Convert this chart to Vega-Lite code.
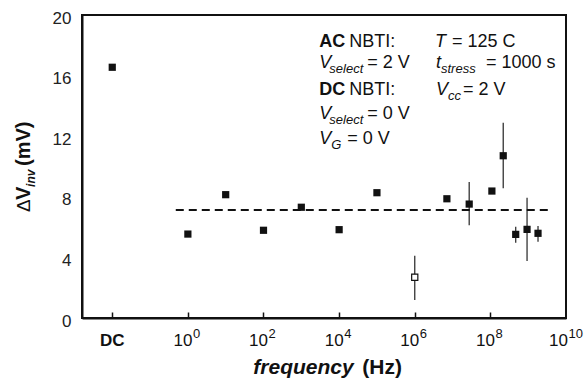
{
  "$schema": "https://vega.github.io/schema/vega-lite/v6.json",
  "width": 484,
  "height": 303,
  "autosize": {"type": "none"},
  "padding": {"left": 82, "top": 15, "right": 20, "bottom": 68},
  "background": "white",
  "config": {
    "font": "Liberation Sans",
    "view": {"stroke": "#111", "strokeWidth": 2},
    "text": {"font": "Liberation Sans", "fill": "#111", "baseline": "alphabetic", "align": "left", "fontSize": 18}
  },
  "datasets": {
    "pts": [
      {"pos": -2, "dv": 16.55, "open": false},
      {"pos": 0, "dv": 5.54, "open": false},
      {"pos": 1, "dv": 8.14, "open": false},
      {"pos": 2, "dv": 5.79, "open": false},
      {"pos": 3, "dv": 7.31, "open": false},
      {"pos": 4, "dv": 5.83, "open": false},
      {"pos": 5, "dv": 8.27, "open": false},
      {"pos": 6, "dv": 2.69, "lo": 1.19, "hi": 4.11, "open": true},
      {"pos": 6.85, "dv": 7.87, "open": false},
      {"pos": 7.44, "dv": 7.52, "lo": 6.12, "hi": 8.98, "open": false},
      {"pos": 8.04, "dv": 8.38, "open": false},
      {"pos": 8.34, "dv": 10.71, "lo": 8.56, "hi": 12.89, "open": false},
      {"pos": 8.67, "dv": 5.52, "lo": 4.97, "hi": 6.03, "open": false},
      {"pos": 8.97, "dv": 5.85, "lo": 3.76, "hi": 7.94, "open": false},
      {"pos": 9.26, "dv": 5.59, "lo": 5.04, "hi": 6.07, "open": false}
    ],
    "ticks": [
      {"pos": 0, "s": "0"},
      {"pos": 2, "s": "2"},
      {"pos": 4, "s": "4"},
      {"pos": 6, "s": "6"},
      {"pos": 8, "s": "8"}
    ]
  },
  "layer": [
    {
      "data": {"name": "pts"},
      "transform": [{"filter": "isValid(datum.lo)"}],
      "mark": {"type": "rule", "stroke": "#333", "strokeWidth": 1.3},
      "encoding": {
        "x": {"field": "pos", "type": "quantitative",
          "scale": {"domain": [-2.8, 10], "nice": false, "zero": false},
          "axis": {"values": [-2, 0, 2, 4, 6, 8], "labels": false, "title": null, "grid": false,
            "tickSize": -6, "tickWidth": 1.5, "tickColor": "#111", "domainWidth": 2, "domainColor": "#111"}},
        "y": {"field": "lo", "type": "quantitative",
          "scale": {"domain": [0, 20], "nice": false, "zero": false},
          "axis": {"values": [0, 4, 8, 12, 16, 20], "ticks": false, "tickSize": 0, "labelPadding": 11,
            "labelFontSize": 17, "labelFont": "Liberation Sans", "labelColor": "#222", "labelFlush": false,
            "labelOffset": 3, "title": null, "grid": false, "domainWidth": 2, "domainColor": "#111"}},
        "y2": {"field": "hi"}
      }
    },
    {
      "data": {"values": [{"x1": -0.32, "x2": 9.58, "m": 7.13}]},
      "mark": {"type": "rule", "stroke": "#111", "strokeWidth": 2, "strokeDash": [8, 5]},
      "encoding": {
        "x": {"field": "x1", "type": "quantitative"},
        "x2": {"field": "x2"},
        "y": {"field": "m", "type": "quantitative"}
      }
    },
    {
      "data": {"name": "pts"},
      "transform": [{"filter": "!datum.open"}],
      "mark": {"type": "point", "shape": "square", "filled": true, "size": 52, "color": "#111", "opacity": 1},
      "encoding": {
        "x": {"field": "pos", "type": "quantitative"},
        "y": {"field": "dv", "type": "quantitative"}
      }
    },
    {
      "data": {"name": "pts"},
      "transform": [{"filter": "datum.open"}],
      "mark": {"type": "point", "shape": "square", "filled": false, "fill": "white", "fillOpacity": 1, "size": 38, "stroke": "#111", "strokeWidth": 1.2, "opacity": 1},
      "encoding": {
        "x": {"field": "pos", "type": "quantitative"},
        "y": {"field": "dv", "type": "quantitative"}
      }
    },
    {
      "data": {"name": "ticks"},
      "mark": {"type": "text", "align": "right", "dx": 4.5, "dy": 28, "fontSize": 17},
      "encoding": {"x": {"field": "pos", "type": "quantitative"}, "y": {"datum": 0}, "text": {"value": "10"}}
    },
    {
      "data": {"name": "ticks"},
      "mark": {"type": "text", "align": "left", "dx": 5, "dy": 20, "fontSize": 13},
      "encoding": {"x": {"field": "pos", "type": "quantitative"}, "y": {"datum": 0}, "text": {"field": "s"}}
    },
    {
      "data": {"values": [{"t": "DC"}]},
      "mark": {"type": "text", "align": "center", "dy": 28, "fontSize": 17, "fontWeight": "bold"},
      "encoding": {"x": {"datum": -2}, "y": {"datum": 0}, "text": {"field": "t"}}
    },
    {
      "data": {"values": [{"t": "10"}]},
      "mark": {"type": "text", "align": "right", "dx": 2, "dy": 28, "fontSize": 17},
      "encoding": {"x": {"datum": 10}, "y": {"datum": 0}, "text": {"field": "t"}}
    },
    {
      "data": {"values": [{"t": "10"}]},
      "mark": {"type": "text", "align": "left", "dx": 2.5, "dy": 20, "fontSize": 13},
      "encoding": {"x": {"datum": 10}, "y": {"datum": 0}, "text": {"field": "t"}}
    },
    {
      "data": {"values": [{"t": "frequency"}]},
      "mark": {"type": "text", "dy": 56, "fontSize": 21, "fontWeight": "bold", "fontStyle": "italic"},
      "encoding": {"x": {"datum": 1.73}, "y": {"datum": 0}, "text": {"field": "t"}}
    },
    {
      "data": {"values": [{"t": "(Hz)"}]},
      "mark": {"type": "text", "dx": 109, "dy": 56, "fontSize": 21, "fontWeight": "bold"},
      "encoding": {"x": {"datum": 1.73}, "y": {"datum": 0}, "text": {"field": "t"}}
    },
    {
      "data": {"values": [{"t": "Δ"}]},
      "mark": {"type": "text", "angle": -90, "dx": 0, "dy": -52, "fontSize": 19},
      "encoding": {"x": {"datum": -2.8}, "y": {"datum": 7.0}, "text": {"field": "t"}}
    },
    {
      "data": {"values": [{"t": "V"}]},
      "mark": {"type": "text", "angle": -90, "dx": 12, "dy": -52, "fontSize": 20, "fontWeight": "bold"},
      "encoding": {"x": {"datum": -2.8}, "y": {"datum": 7.0}, "text": {"field": "t"}}
    },
    {
      "data": {"values": [{"t": "inv"}]},
      "mark": {"type": "text", "angle": -90, "dx": 25, "dy": -47, "fontSize": 12, "fontWeight": "bold", "fontStyle": "italic"},
      "encoding": {"x": {"datum": -2.8}, "y": {"datum": 7.0}, "text": {"field": "t"}}
    },
    {
      "data": {"values": [{"t": "(mV)"}]},
      "mark": {"type": "text", "angle": -90, "dx": 46, "dy": -52, "fontSize": 20, "fontWeight": "bold"},
      "encoding": {"x": {"datum": -2.8}, "y": {"datum": 7.0}, "text": {"field": "t"}}
    },
    {
      "data": {"values": [{"t": "AC"}]},
      "mark": {"type": "text", "fontWeight": "bold"},
      "encoding": {"x": {"datum": 3.476}, "y": {"datum": 17.91}, "text": {"field": "t"}}
    },
    {
      "data": {"values": [{"t": "NBTI:"}]},
      "mark": {"type": "text", "dx": 30},
      "encoding": {"x": {"datum": 3.476}, "y": {"datum": 17.91}, "text": {"field": "t"}}
    },
    {
      "data": {"values": [{"t": "V"}]},
      "mark": {"type": "text", "fontStyle": "italic"},
      "encoding": {"x": {"datum": 3.476}, "y": {"datum": 16.48}, "text": {"field": "t"}}
    },
    {
      "data": {"values": [{"t": "select"}]},
      "mark": {"type": "text", "fontStyle": "italic", "fontSize": 13, "dx": 10, "dy": 5},
      "encoding": {"x": {"datum": 3.476}, "y": {"datum": 16.48}, "text": {"field": "t"}}
    },
    {
      "data": {"values": [{"t": "= 2 V"}]},
      "mark": {"type": "text", "dx": 48},
      "encoding": {"x": {"datum": 3.476}, "y": {"datum": 16.48}, "text": {"field": "t"}}
    },
    {
      "data": {"values": [{"t": "DC"}]},
      "mark": {"type": "text", "fontWeight": "bold"},
      "encoding": {"x": {"datum": 3.476}, "y": {"datum": 14.72}, "text": {"field": "t"}}
    },
    {
      "data": {"values": [{"t": "NBTI:"}]},
      "mark": {"type": "text", "dx": 30},
      "encoding": {"x": {"datum": 3.476}, "y": {"datum": 14.72}, "text": {"field": "t"}}
    },
    {
      "data": {"values": [{"t": "V"}]},
      "mark": {"type": "text", "fontStyle": "italic"},
      "encoding": {"x": {"datum": 3.476}, "y": {"datum": 13.13}, "text": {"field": "t"}}
    },
    {
      "data": {"values": [{"t": "select"}]},
      "mark": {"type": "text", "fontStyle": "italic", "fontSize": 13, "dx": 10, "dy": 5},
      "encoding": {"x": {"datum": 3.476}, "y": {"datum": 13.13}, "text": {"field": "t"}}
    },
    {
      "data": {"values": [{"t": "= 0 V"}]},
      "mark": {"type": "text", "dx": 48},
      "encoding": {"x": {"datum": 3.476}, "y": {"datum": 13.13}, "text": {"field": "t"}}
    },
    {
      "data": {"values": [{"t": "V"}]},
      "mark": {"type": "text", "fontStyle": "italic"},
      "encoding": {"x": {"datum": 3.476}, "y": {"datum": 11.49}, "text": {"field": "t"}}
    },
    {
      "data": {"values": [{"t": "G"}]},
      "mark": {"type": "text", "fontStyle": "italic", "fontSize": 13, "dx": 12, "dy": 5},
      "encoding": {"x": {"datum": 3.476}, "y": {"datum": 11.49}, "text": {"field": "t"}}
    },
    {
      "data": {"values": [{"t": "= 0 V"}]},
      "mark": {"type": "text", "dx": 28},
      "encoding": {"x": {"datum": 3.476}, "y": {"datum": 11.49}, "text": {"field": "t"}}
    },
    {
      "data": {"values": [{"t": "T"}]},
      "mark": {"type": "text", "fontStyle": "italic"},
      "encoding": {"x": {"datum": 6.535}, "y": {"datum": 17.91}, "text": {"field": "t"}}
    },
    {
      "data": {"values": [{"t": "= 125 C"}]},
      "mark": {"type": "text", "dx": 17},
      "encoding": {"x": {"datum": 6.535}, "y": {"datum": 17.91}, "text": {"field": "t"}}
    },
    {
      "data": {"values": [{"t": "t"}]},
      "mark": {"type": "text", "fontStyle": "italic", "dx": 1},
      "encoding": {"x": {"datum": 6.535}, "y": {"datum": 16.48}, "text": {"field": "t"}}
    },
    {
      "data": {"values": [{"t": "stress"}]},
      "mark": {"type": "text", "fontStyle": "italic", "fontSize": 13, "dx": 6, "dy": 5},
      "encoding": {"x": {"datum": 6.535}, "y": {"datum": 16.48}, "text": {"field": "t"}}
    },
    {
      "data": {"values": [{"t": "= 1000 s"}]},
      "mark": {"type": "text", "dx": 51},
      "encoding": {"x": {"datum": 6.535}, "y": {"datum": 16.48}, "text": {"field": "t"}}
    },
    {
      "data": {"values": [{"t": "V"}]},
      "mark": {"type": "text", "fontStyle": "italic", "dx": 1},
      "encoding": {"x": {"datum": 6.535}, "y": {"datum": 14.72}, "text": {"field": "t"}}
    },
    {
      "data": {"values": [{"t": "cc"}]},
      "mark": {"type": "text", "fontStyle": "italic", "fontSize": 13, "dx": 13, "dy": 5},
      "encoding": {"x": {"datum": 6.535}, "y": {"datum": 14.72}, "text": {"field": "t"}}
    },
    {
      "data": {"values": [{"t": "= 2 V"}]},
      "mark": {"type": "text", "dx": 28},
      "encoding": {"x": {"datum": 6.535}, "y": {"datum": 14.72}, "text": {"field": "t"}}
    }
  ]
}
